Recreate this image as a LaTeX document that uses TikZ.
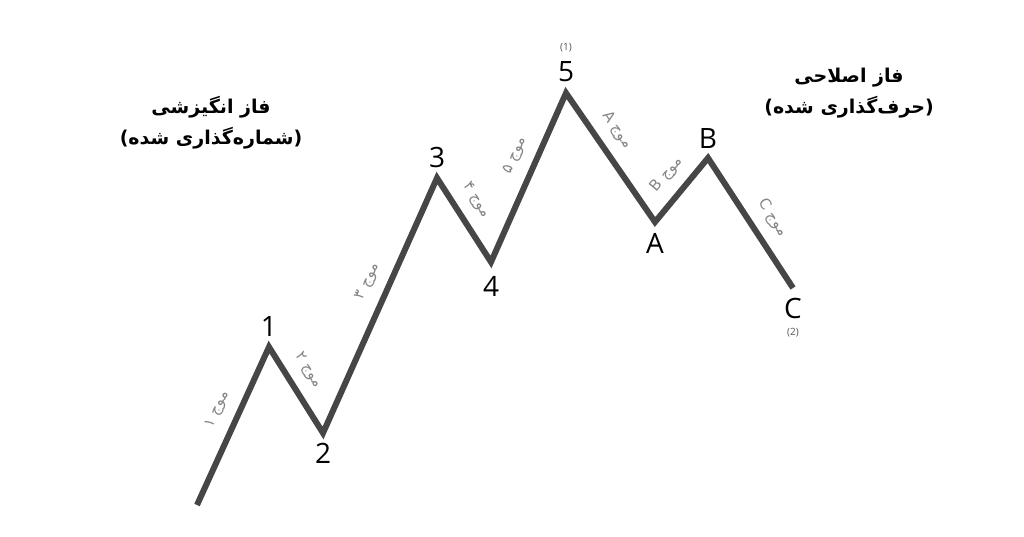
\documentclass[tikz,border=0pt]{standalone}
\usepackage{fontspec}
\setmainfont{Open Sans}
\newfontfamily\persianfont[Script=Arabic]{DejaVu Sans}
\newfontfamily\parenfont{DejaVu Sans}
\TeXXeTstate=1
\usetikzlibrary{positioning}

\definecolor{wavegray}{HTML}{464646}
\definecolor{labelgray}{HTML}{858585}
\definecolor{subgray}{HTML}{555555}

\newcommand{\lparen}{{\parenfont\bfseries(}}
\newcommand{\rparen}{{\parenfont\bfseries)}}

\tikzset{
  wave/.style={draw=wavegray, line width=6pt, line join=miter},
  wavelabel/.style={sloped, above=8pt, inner sep=3pt, text=labelgray,
    font=\persianfont\fontsize{15}{15}\selectfont},
  peak/.style={inner sep=0pt, font=\fontsize{28}{28}\selectfont},
  sublabel/.style={inner sep=0pt, text=subgray, font=\fontsize{10}{10}\selectfont},
  phase/.style={inner sep=0pt, align=center,
    font=\persianfont\bfseries\fontsize{19}{31}\selectfont}
}

\begin{document}
\begin{tikzpicture}[x=1pt, y=-1pt]
  \useasboundingbox (0,0) rectangle (1024,536);

  % wave points
  \coordinate (p0) at (197,505);
  \coordinate (p1) at (269,347);
  \coordinate (p2) at (323,433);
  \coordinate (p3) at (437,178);
  \coordinate (p4) at (491,262);
  \coordinate (p5) at (566,93);
  \coordinate (pA) at (655,222);
  \coordinate (pB) at (708,158);
  \coordinate (pC) at (793,288);

  \draw[wave] (p0) -- node[wavelabel, pos=0.55] {\beginR موج ۱\endR} (p1)
    -- node[wavelabel, pos=0.4] {\beginR موج ۲\endR} (p2)
    -- node[wavelabel, pos=0.56] {\beginR موج ۳\endR} (p3)
    -- node[wavelabel, pos=0.4] {\beginR موج ۴\endR} (p4)
    -- node[wavelabel, pos=0.58] {\beginR موج ۵\endR} (p5)
    -- node[wavelabel, pos=0.38] {\beginR موج A\endR} (pA)
    -- node[wavelabel, pos=0.53] {\beginR موج B\endR} (pB)
    -- node[wavelabel, pos=0.55] {\beginR موج C\endR} (pC);

  % peak names
  \node[peak] (l1) [above=10pt of p1] {1};
  \node[peak] (l2) [below=10pt of p2] {2};
  \node[peak] (l3) [above=10pt of p3] {3};
  \node[peak] (l4) [below=14pt of p4] {4};
  \node[peak] (l5) [above=11pt of p5] {5};
  \node[peak] (lA) [below=11pt of pA] {A};
  \node[peak] (lB) [above=9pt of pB] {B};
  \node[peak] (lC) [below=10pt of pC] {C};
  \node[sublabel] (s1) [above=9pt of l5] {(1)};
  \node[sublabel] (s2) [below=9pt of lC] {(2)};

  % phases
  \node[phase] (impulse) at (211,123)
    {\beginR فاز انگیزشی\endR\\\lparen\beginR شماره^^^^200cگذاری شده\endR\rparen};
  \node[phase] (corrective) at (849,93)
    {\beginR فاز اصلاحی\endR\\\lparen\beginR حرف^^^^200cگذاری شده\endR\rparen};
\end{tikzpicture}
\end{document}
